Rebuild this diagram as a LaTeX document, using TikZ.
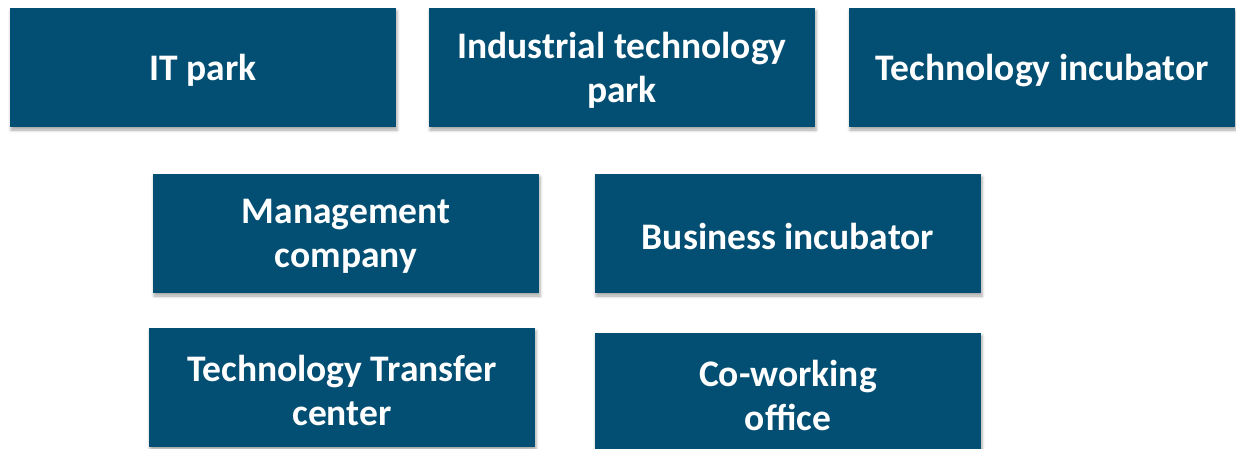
\documentclass[tikz,border=0pt]{standalone}
\usepackage{fontspec}
\setmainfont{Carlito}
\usetikzlibrary{shadows.blur}
\definecolor{boxblue}{HTML}{034F73}
\begin{document}
\begin{tikzpicture}[x=1pt,y=-1pt,
  card/.style={fill=boxblue, draw=none, minimum width=386pt, minimum height=119pt,
    inner sep=0pt,
    blur shadow={shadow xshift=1pt, shadow yshift=-3pt, shadow blur radius=3pt, shadow opacity=35}},
  cardtext/.style={align=center, text=white, inner sep=0pt, yshift=-3pt,
    font=\fontsize{37.5}{44}\selectfont\bfseries}]
  \useasboundingbox (0,0) rectangle (1236,448);
  \clip (0,0) rectangle (1236,448);
  \node[card, label={[cardtext]center:IT park}] (itpark) at (203,67.5) {};
  \node[card, label={[cardtext]center:Industrial technology\\park}] (indpark) at (622,67.5) {};
  \node[card, label={[cardtext]center:Technology incubator}] (techinc) at (1042,67.5) {};
  \node[card, label={[cardtext]center:Management\\company}] (mgmt) at (346,233.5) {};
  \node[card, label={[cardtext]center:Business incubator}] (businc) at (788,233.5) {};
  \node[card, label={[cardtext]center:Technology Transfer\\center}] (ttc) at (342,387.5) {};
  \node[card, label={[cardtext]center:Co-working\\office}] (cowork) at (788,392.5) {};
\end{tikzpicture}
\end{document}
